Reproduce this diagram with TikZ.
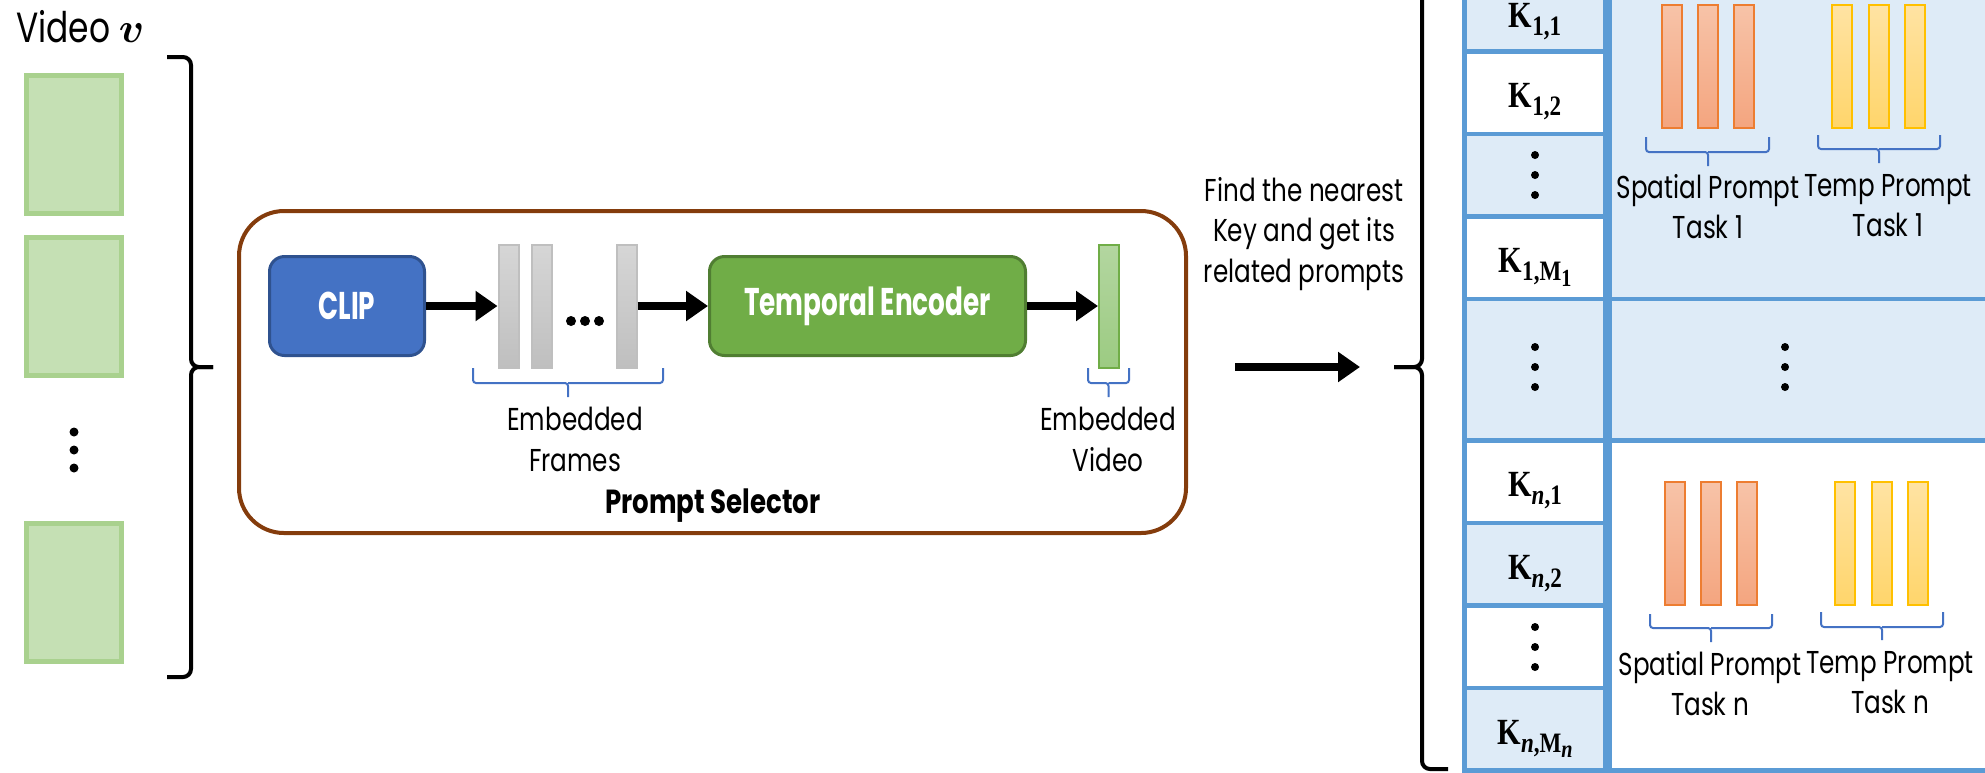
\documentclass[tikz,border=0pt]{standalone}
\usepackage{amsmath}
\usepackage[no-math]{fontspec}
\setmainfont{Poppins}[FakeStretch=0.78]
\newfontfamily\headfont{Poppins}[FakeStretch=0.68]
\newfontfamily\keyfont{Liberation Serif}[FakeStretch=0.82]
\usetikzlibrary{shapes,arrows.meta}

\definecolor{selbrown}{HTML}{843C0C}
\definecolor{clipblue}{HTML}{4472C4}
\definecolor{clipedge}{HTML}{2F528F}
\definecolor{encgreen}{HTML}{70AD47}
\definecolor{encedge}{HTML}{507E32}
\definecolor{framefill}{HTML}{C5E0B4}
\definecolor{frameedge}{HTML}{A9D18E}
\definecolor{tableblue}{HTML}{5B9BD5}
\definecolor{cellblue}{HTML}{DEEBF7}
\definecolor{bracecol}{HTML}{4472C4}
\definecolor{spatialtop}{HTML}{F7C3A8}
\definecolor{spatialbot}{HTML}{F4A57F}
\definecolor{spatialedge}{HTML}{ED7D31}
\definecolor{temptop}{HTML}{FFE3A3}
\definecolor{tempbot}{HTML}{FFD56B}
\definecolor{tempedge}{HTML}{FFC000}
\definecolor{graytop}{HTML}{D6D6D6}
\definecolor{graybot}{HTML}{BFBFBF}
\definecolor{vidtop}{HTML}{B3D6A0}
\definecolor{vidbot}{HTML}{9CCB82}

\begin{document}
\begin{tikzpicture}[x=0.1mm, y=-0.1mm, node distance=2cm, semithick,
    font=\fontsize{9}{11.6}\selectfont]
  \tikzstyle{vframe} = [rectangle, draw=frameedge, fill=framefill, line width=0.5mm,
    minimum width=9.5mm, minimum height=13.8mm, inner sep=0pt]
  \tikzstyle{block} = [rectangle, rounded corners=1.5mm, draw, line width=0.3mm,
    text=white, minimum height=9.9mm, inner sep=0pt,
    font=\headfont\bfseries\fontsize{11}{13}\selectfont]
  \tikzstyle{bar} = [rectangle, draw, line width=0.2mm, minimum width=2mm,
    minimum height=12.3mm, inner sep=0pt]
  \tikzstyle{keycell} = [rectangle, draw=tableblue, line width=0.45mm,
    minimum width=14.1mm, minimum height=8.25mm, inner sep=0pt,
    text height=3.2mm, text depth=0.2mm,
    font=\keyfont\bfseries\fontsize{10.5}{12}\selectfont]
  \tikzstyle{note} = [align=center, inner sep=0pt, anchor=north]
  \tikzstyle{line} = [draw, line width=0.8mm, -{Triangle[length=2.2mm, width=2.9mm]}]
  \tikzstyle{bracket} = [draw, line width=0.4mm, rounded corners=0.8mm]
  \tikzstyle{ubrace} = [draw=bracecol, line width=0.2mm, rounded corners=0.3mm]

  \useasboundingbox (0,0) rectangle (1985,772);
  \clip (0,0) rectangle (1985,772);

  % Input video
  \node [anchor=base west, inner sep=0pt, font=\fontsize{12}{14}\selectfont]
    (vidlabel) at (15,42) {Video $\boldsymbol{v}$};
  \node [vframe] (v1) at (74,144.5) {};
  \node [vframe, below of=v1, node distance=16.2mm] (v2) {};
  \node [vframe, below of=v2, node distance=28.6mm] (v3) {};
  \foreach \y in {432,450,468}
    \fill (74,\y) circle (0.45mm);
  \draw [bracket] (167,57) -| (191,367) -- (213,367);
  \draw [bracket] (213,367) -- (191,367) |- (167,677);

  % Prompt selector
  \node [draw=selbrown, line width=0.4mm, rounded corners=4.5mm,
    minimum width=94.7mm, minimum height=32.2mm] (selector) at (712.5,372) {};
  \node [block, fill=clipblue, draw=clipedge, minimum width=15.5mm] (clip) at (347,306) {CLIP};
  \node [bar, top color=graytop, bottom color=graybot, draw=graybot,
    right of=clip, node distance=16.15mm] (f1) {};
  \node [bar, top color=graytop, bottom color=graybot, draw=graybot,
    right of=f1, node distance=3.35mm] (f2) {};
  \node [bar, top color=graytop, bottom color=graybot, draw=graybot,
    right of=f2, node distance=8.45mm] (f3) {};
  \foreach \x in {571,585,599}
    \fill (\x,321) circle (0.5mm);
  \node [block, fill=encgreen, draw=encedge, minimum width=31.6mm,
    right of=f3, node distance=24.1mm] (temporal) {Temporal Encoder};
  \node [bar, top color=vidtop, bottom color=vidbot, draw=encgreen,
    right of=temporal, node distance=24.15mm] (vid) {};

  \draw [ubrace] (473,368) |- (568,383) -- (568,397) (568,383) -| (663,368);
  \node [note] (frametext) at (575,406) {Embedded\\Frames};
  \draw [ubrace] (1088,368) |- (1108.5,383) -- (1108.5,397) (1108.5,383) -| (1129,368);
  \node [note] (vidtext) at (1108,406) {Embedded\\Video};
  \node [anchor=base, inner sep=0pt, font=\bfseries\fontsize{9.5}{11}\selectfont]
    (seltitle) at (713,513) {Prompt Selector};

  % Lookup
  \node [note] (findtext) at (1304,176) {Find the nearest\\Key and get its\\related prompts};
  \coordinate (findstart) at (1235,367);
  \coordinate (findend) at (1360,367);
  \draw [bracket] (1448,-35) -| (1422,367) -- (1394,367);
  \draw [bracket] (1394,367) -- (1422,367) |- (1448,769);

  % Key table
  \node [keycell, fill=cellblue, text height=3.4mm, text depth=0mm] (k11) at (1535,10)
    {K\raisebox{-0.5ex}{\footnotesize 1,1}};
  \node [keycell, fill=white, below of=k11, node distance=8.25mm] (k12)
    {K\raisebox{-0.5ex}{\footnotesize 1,2}};
  \node [keycell, fill=cellblue, below of=k12, node distance=8.25mm] (k1d) {};
  \node [keycell, fill=white, below of=k1d, node distance=8.25mm] (k1m)
    {K\raisebox{-0.5ex}{\footnotesize 1,M\raisebox{-0.4ex}{\scriptsize 1}}};
  \node [keycell, fill=cellblue, minimum height=14.15mm, below of=k1m, node distance=11.2mm] (kmid) {};
  \node [keycell, fill=white, below of=kmid, node distance=11.2mm] (kn1)
    {K\raisebox{-0.5ex}{\footnotesize\textit{n},1}};
  \node [keycell, fill=cellblue, below of=kn1, node distance=8.25mm] (kn2)
    {K\raisebox{-0.5ex}{\footnotesize\textit{n},2}};
  \node [keycell, fill=white, below of=kn2, node distance=8.25mm] (knd) {};
  \node [keycell, fill=cellblue, below of=knd, node distance=8.25mm] (knm)
    {K\raisebox{-0.5ex}{\footnotesize\textit{n},M\raisebox{-0.4ex}{\scriptsize\textit{n}}}};

  \node [keycell, fill=cellblue, anchor=north west, minimum width=45mm, minimum height=33mm]
    (panel1) at (k11.north east) {};
  \node [keycell, fill=cellblue, anchor=north west, minimum width=45mm, minimum height=14.15mm]
    (panelmid) at (kmid.north east) {};
  \node [keycell, fill=white, anchor=north west, minimum width=45mm, minimum height=33mm]
    (paneln) at (kn1.north east) {};

  \foreach \y in {155,175,195}
    \fill (1535,\y) circle (0.4mm);
  \foreach \x in {1535,1785}
    \foreach \y in {347,367,387}
      \fill (\x,\y) circle (0.4mm);
  \foreach \y in {627,647,667}
    \fill (1535,\y) circle (0.4mm);

  % Prompts of task 1
  \node [bar, top color=spatialtop, bottom color=spatialbot, draw=spatialedge] (s11) at (1672,66.5) {};
  \node [bar, top color=spatialtop, bottom color=spatialbot, draw=spatialedge, right of=s11, node distance=3.6mm] (s12) {};
  \node [bar, top color=spatialtop, bottom color=spatialbot, draw=spatialedge, right of=s12, node distance=3.6mm] (s13) {};
  \node [bar, top color=temptop, bottom color=tempbot, draw=tempedge, right of=s13, node distance=9.8mm] (t11) {};
  \node [bar, top color=temptop, bottom color=tempbot, draw=tempedge, right of=t11, node distance=3.65mm] (t12) {};
  \node [bar, top color=temptop, bottom color=tempbot, draw=tempedge, right of=t12, node distance=3.65mm] (t13) {};
  \draw [ubrace] (1646,137) |- (1708,152) -- (1708,166) (1708,152) -| (1769,137);
  \draw [ubrace] (1818,135) |- (1879,149) -- (1879,163) (1879,149) -| (1940,135);
  \node [note] (sptext1) at (1708,173) {Spatial Prompt\\Task 1};
  \node [note] (tptext1) at (1888,173) {Temp Prompt\\Task 1};

  % Prompts of task n
  \node [bar, top color=spatialtop, bottom color=spatialbot, draw=spatialedge] (sn1) at (1675,543.5) {};
  \node [bar, top color=spatialtop, bottom color=spatialbot, draw=spatialedge, right of=sn1, node distance=3.6mm] (sn2) {};
  \node [bar, top color=spatialtop, bottom color=spatialbot, draw=spatialedge, right of=sn2, node distance=3.6mm] (sn3) {};
  \node [bar, top color=temptop, bottom color=tempbot, draw=tempedge, right of=sn3, node distance=9.8mm] (tn1) {};
  \node [bar, top color=temptop, bottom color=tempbot, draw=tempedge, right of=tn1, node distance=3.65mm] (tn2) {};
  \node [bar, top color=temptop, bottom color=tempbot, draw=tempedge, right of=tn2, node distance=3.65mm] (tn3) {};
  \draw [ubrace] (1650,614) |- (1711,628) -- (1711,642) (1711,628) -| (1772,614);
  \draw [ubrace] (1821,612) |- (1882,627) -- (1882,640) (1882,627) -| (1943,612);
  \node [note] (sptextn) at (1710,650) {Spatial Prompt\\Task n};
  \node [note] (tptextn) at (1890,650) {Temp Prompt\\Task n};

  % Draw edges
  \path [line] (clip) -- (f1);
  \path [line] (f3) -- (temporal);
  \path [line] (temporal) -- (vid);
  \path [line] (findstart) -- (findend);
\end{tikzpicture}
\end{document}
